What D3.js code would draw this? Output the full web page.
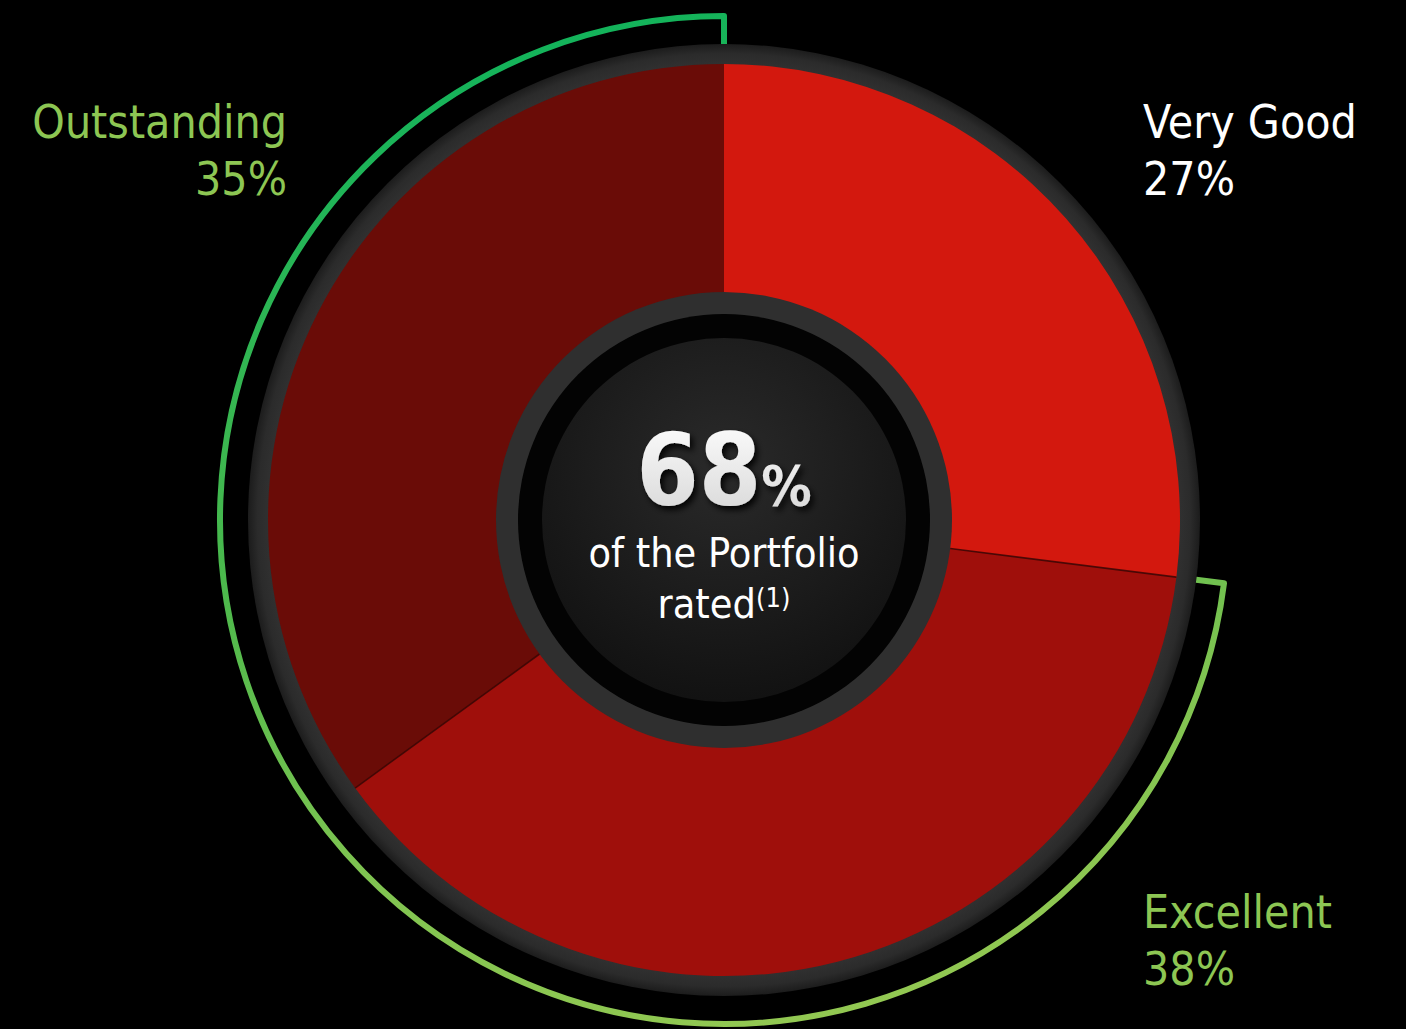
<!DOCTYPE html>
<html>
<head>
<meta charset="utf-8">
<script src="https://cdn.jsdelivr.net/npm/d3@7/dist/d3.min.js"></script>
<style>
  html, body { margin: 0; padding: 0; background: #000; }
  svg { display: block; }
  .lbl { font-family: "DejaVu Sans", Verdana, sans-serif; font-stretch: condensed; }
</style>
</head>
<body>
<svg id="chart" width="1406" height="1029"></svg>
<script>
// Portfolio rating breakdown
const categories = ["Very Good", "Excellent", "Outstanding"];
const shares = [27, 38, 35];
const sliceColors = ["#d3180e", "#9f0f0b", "#6a0c07"];
const labelColors = ["#ffffff", "#8dc653", "#8dc653"];
const highlighted = ["Excellent", "Outstanding"];
const headline = "68";
const subLines = ["of the Portfolio", "rated"];
const footnoteMark = "(1)";

const svg = d3.select("#chart");
const cx = 724, cy = 520;

const rOuterRing = 476, rRed = 456, rRedInner = 228, rInnerRing = 206, rDisc = 182;
const rBracket = 504;

const defs = svg.append("defs");

// gradients below are expressed in the centred group's coordinates
const gGreen = defs.append("linearGradient")
  .attr("id", "bracketGrad").attr("gradientUnits", "userSpaceOnUse")
  .attr("x1", -120).attr("y1", -rBracket).attr("x2", 120).attr("y2", rBracket);
gGreen.append("stop").attr("offset", "0").attr("stop-color", "#12b35b");
gGreen.append("stop").attr("offset", "0.45").attr("stop-color", "#4cb94c");
gGreen.append("stop").attr("offset", "0.75").attr("stop-color", "#7fc451");
gGreen.append("stop").attr("offset", "1").attr("stop-color", "#93c852");

const gDisc = defs.append("radialGradient")
  .attr("id", "discGrad").attr("cx", "0.5").attr("cy", "0.35").attr("r", "0.7");
gDisc.append("stop").attr("offset", "0").attr("stop-color", "#2a2a2a");
gDisc.append("stop").attr("offset", "1").attr("stop-color", "#101010");

const gRing = defs.append("radialGradient")
  .attr("id", "ringGrad").attr("gradientUnits", "userSpaceOnUse")
  .attr("cx", 0).attr("cy", 0).attr("r", rOuterRing);
gRing.append("stop").attr("offset", String(rRed / rOuterRing)).attr("stop-color", "#303030");
gRing.append("stop").attr("offset", "0.98").attr("stop-color", "#2b2b2b");
gRing.append("stop").attr("offset", "1").attr("stop-color", "#1c1c1c");

const gNum = defs.append("linearGradient")
  .attr("id", "numGrad").attr("x1", "0").attr("y1", "0").attr("x2", "0").attr("y2", "1");
gNum.append("stop").attr("offset", "0").attr("stop-color", "#ffffff");
gNum.append("stop").attr("offset", "1").attr("stop-color", "#d4d4d4");

const shadow = defs.append("filter").attr("id", "numShadow")
  .attr("x", "-20%").attr("y", "-20%").attr("width", "140%").attr("height", "140%");
shadow.append("feDropShadow").attr("dx", 3).attr("dy", 4).attr("stdDeviation", 3)
  .attr("flood-color", "#000").attr("flood-opacity", 0.9);

const g = svg.append("g").attr("transform", `translate(${cx},${cy})`);

// outer dark ring
g.append("circle").attr("r", rOuterRing).attr("fill", "url(#ringGrad)");

// slices
const pie = d3.pie().sort(null).value(d => d.v).startAngle(0).endAngle(2 * Math.PI);
const data = categories.map((c, i) => ({ c, v: shares[i], col: sliceColors[i] }));
const arcs = pie(data);
const arc = d3.arc().innerRadius(rRedInner - 4).outerRadius(rRed);

g.selectAll("path.slice").data(arcs).join("path")
  .attr("class", "slice")
  .attr("d", arc)
  .attr("fill", d => d.data.col);

// dividing lines between adjacent slices
g.selectAll("line.sep").data(arcs.slice(1)).join("line")
  .attr("class", "sep")
  .attr("x1", d => rRedInner * Math.sin(d.startAngle))
  .attr("y1", d => -rRedInner * Math.cos(d.startAngle))
  .attr("x2", d => rRed * Math.sin(d.startAngle))
  .attr("y2", d => -rRed * Math.cos(d.startAngle))
  .attr("stroke", "#3c0604").attr("stroke-width", 1.6).attr("opacity", 0.85);

// inner rings and centre disc
g.append("circle").attr("r", rRedInner).attr("fill", "#2f2f2f");
g.append("circle").attr("r", rInnerRing).attr("fill", "#030303");
g.append("circle").attr("r", rDisc).attr("fill", "url(#discGrad)");

// bracket arc spanning the highlighted slices
const hi = arcs.filter(d => highlighted.includes(d.data.c));
const a0 = d3.min(hi, d => d.startAngle);
const a1 = d3.max(hi, d => d.endAngle);
const tickIn = rOuterRing;
const bp = d3.path();
bp.moveTo(tickIn * Math.sin(a1), -tickIn * Math.cos(a1));
bp.lineTo(rBracket * Math.sin(a1), -rBracket * Math.cos(a1));
bp.arc(0, 0, rBracket, a1 - Math.PI / 2, a0 - Math.PI / 2, true);
bp.lineTo(tickIn * Math.sin(a0), -tickIn * Math.cos(a0));
g.append("path")
  .attr("d", bp.toString())
  .attr("fill", "none")
  .attr("stroke", "url(#bracketGrad)")
  .attr("stroke-width", 6)
  .attr("stroke-linejoin", "round");

// category labels
const labelPos = {
  "Very Good":   { x: 1143, y: 138, anchor: "start" },
  "Excellent":   { x: 1143, y: 928, anchor: "start" },
  "Outstanding": { x: 287,  y: 138, anchor: "end" }
};
data.forEach((d, i) => {
  const p = labelPos[d.c];
  const t = svg.append("text").attr("class", "lbl")
    .attr("x", p.x).attr("y", p.y)
    .attr("text-anchor", p.anchor)
    .attr("fill", labelColors[i])
    .attr("font-size", 46);
  t.append("tspan").attr("x", p.x).text(d.c);
  t.append("tspan").attr("x", p.x).attr("dy", 57).text(d.v + "%");
});

// centre headline
const head = svg.append("text").attr("class", "lbl")
  .attr("x", cx).attr("y", 505).attr("text-anchor", "middle")
  .attr("fill", "url(#numGrad)").attr("font-weight", "bold")
  .attr("filter", "url(#numShadow)");
head.append("tspan").attr("font-size", 100).text(headline);
head.append("tspan").attr("font-size", 56).text("%");

svg.append("text").attr("class", "lbl")
  .attr("x", cx).attr("y", 567).attr("text-anchor", "middle")
  .attr("fill", "#ffffff").attr("font-size", 41)
  .text(subLines[0]);

const rated = svg.append("text").attr("class", "lbl")
  .attr("x", cx).attr("y", 618).attr("text-anchor", "middle")
  .attr("fill", "#ffffff").attr("font-size", 41);
rated.append("tspan").text(subLines[1]);
rated.append("tspan").attr("font-size", 27).attr("dy", -11).text(footnoteMark);
</script>
</body>
</html>
